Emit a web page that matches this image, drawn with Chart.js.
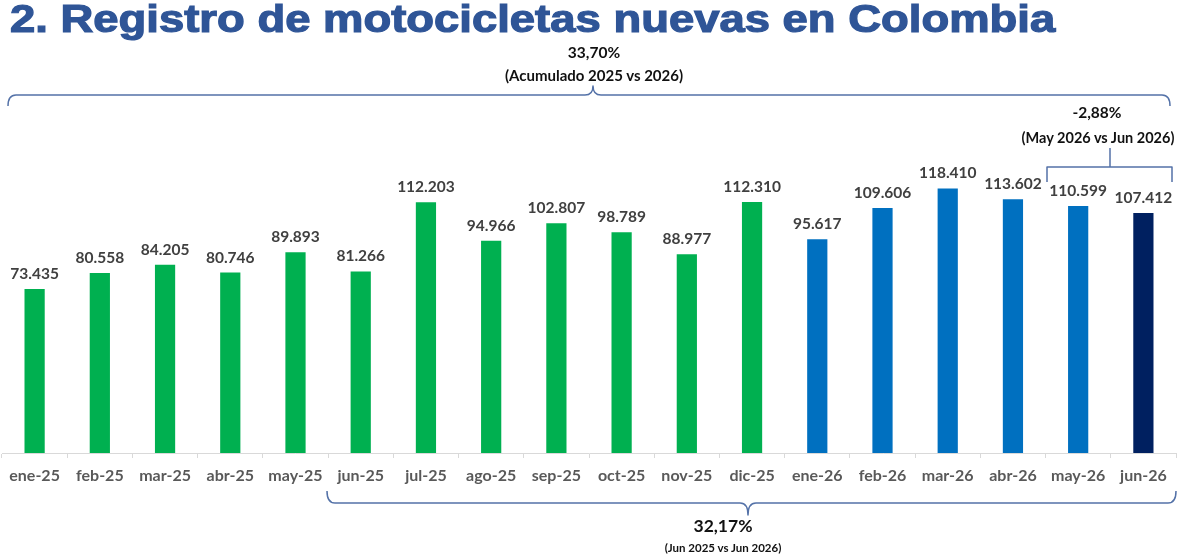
<!DOCTYPE html>
<html>
<head>
<meta charset="utf-8">
<script src="https://cdn.jsdelivr.net/npm/chart.js@4/dist/chart.umd.min.js"></script>
<style>
  html, body { margin:0; padding:0; background:#fff; }
  #wrap { position:relative; width:1181px; height:556px; overflow:hidden; }
  #c { position:absolute; left:0; top:0; }
  .t { position:absolute; white-space:nowrap; font-family:Lato, "Open Sans", sans-serif; font-weight:700; color:#111; transform:translate(-50%,-50%); line-height:1; }
  #title { position:absolute; left:10px; top:-3px; font-family:"Liberation Sans", Arial, sans-serif; font-weight:700; font-size:38.5px; color:#2f5597; white-space:nowrap; transform:scaleX(1.18); transform-origin:0 0; -webkit-text-stroke:1.2px #2f5597; }
</style>
</head>
<body>
<div id="wrap">
  <canvas id="c" width="1181" height="556"></canvas>
  <div id="title">2. Registro de motocicletas nuevas en Colombia</div>
  <div class="t" style="left:594px;top:53px;font-size:15.5px;">33,70%</div>
  <div class="t" style="left:594px;top:75px;font-size:15px;">(Acumulado 2025 vs 2026)</div>
  <div class="t" style="left:1097px;top:113px;font-size:15.5px;">-2,88%</div>
  <div class="t" style="left:1098px;top:138px;font-size:14.5px;">(May 2026 vs Jun 2026)</div>
  <div class="t" style="left:723px;top:526px;font-size:17.5px;">32,17%</div>
  <div class="t" style="left:723px;top:548px;font-size:11.5px;">(Jun 2025 vs Jun 2026)</div>
</div>
<script>
const categories = ["ene-25","feb-25","mar-25","abr-25","may-25","jun-25","jul-25","ago-25","sep-25","oct-25","nov-25","dic-25","ene-26","feb-26","mar-26","abr-26","may-26","jun-26"];
const registros = [73435,80558,84205,80746,89893,81266,112203,94966,102807,98789,88977,112310,95617,109606,118410,113602,110599,107412];
const barColors = ["#00b050","#00b050","#00b050","#00b050","#00b050","#00b050","#00b050","#00b050","#00b050","#00b050","#00b050","#00b050","#0070c0","#0070c0","#0070c0","#0070c0","#0070c0","#002060"];

function fmt(v){ return String(v).replace(/\B(?=(\d{3})+(?!\d))/g, "."); }

const braceColor = "#5472a8";

const annotations = {
  id: "annotations",
  afterDatasetsDraw(chart) {
    const ctx = chart.ctx;
    const meta = chart.getDatasetMeta(0);
    ctx.save();
    ctx.font = "700 15.5px Lato, 'Open Sans', sans-serif";
    ctx.fillStyle = "#404040";
    ctx.textAlign = "center";
    ctx.textBaseline = "middle";
    meta.data.forEach((bar, i) => {
      ctx.fillText(fmt(registros[i]), bar.x, bar.y - 15);
    });
    ctx.restore();

    ctx.save();
    ctx.strokeStyle = braceColor;
    ctx.lineWidth = 1.5;
    ctx.lineJoin = "round";
    const r = 8;
    // top brace (Acumulado)
    ctx.beginPath();
    ctx.moveTo(8, 106);
    ctx.quadraticCurveTo(8, 95, 8 + r, 95);
    ctx.lineTo(585, 95);
    ctx.quadraticCurveTo(593, 95, 593, 86);
    ctx.quadraticCurveTo(593, 95, 601, 95);
    ctx.lineTo(1170 - r, 95);
    ctx.quadraticCurveTo(1170, 95, 1170, 106);
    ctx.stroke();

    // bottom brace (Jun 2025 vs Jun 2026)
    ctx.beginPath();
    ctx.moveTo(327, 491);
    ctx.quadraticCurveTo(327, 503, 327 + r, 503);
    ctx.lineTo(740, 503);
    ctx.quadraticCurveTo(748, 503, 748, 515);
    ctx.quadraticCurveTo(748, 503, 756, 503);
    ctx.lineTo(1176 - r, 503);
    ctx.quadraticCurveTo(1176, 503, 1176, 491);
    ctx.stroke();

    // small bracket (May vs Jun 2026)
    ctx.beginPath();
    ctx.moveTo(1047, 182);
    ctx.lineTo(1047, 167);
    ctx.lineTo(1172, 167);
    ctx.lineTo(1172, 182);
    ctx.moveTo(1110, 167);
    ctx.lineTo(1110, 148);
    ctx.stroke();
    ctx.restore();
  }
};

new Chart(document.getElementById("c"), {
  type: "bar",
  data: {
    labels: categories,
    datasets: [{
      data: registros,
      backgroundColor: barColors,
      borderWidth: 0,
      categoryPercentage: 1.0,
      barPercentage: 0.31
    }]
  },
  options: {
    responsive: false,
    animation: false,
    devicePixelRatio: 1,
    layout: { padding: { left: 2, right: 5, top: 100, bottom: 0 } },
    plugins: { legend: { display: false }, tooltip: { enabled: false } },
    scales: {
      x: {
        offset: true,
        grid: { offset: true, drawOnChartArea: false, drawTicks: true, tickLength: 5, color: "#d9d9d9" },
        border: { display: true, color: "#d9d9d9", width: 1 },
        ticks: { color: "#595959", font: { family: "Lato, 'Open Sans', sans-serif", weight: "700", size: 16 }, padding: 8, maxRotation: 0, autoSkip: false },
        afterFit: (s) => { s.height = 103; }
      },
      y: {
        display: false,
        min: 0,
        max: 158000
      }
    }
  },
  plugins: [annotations]
});
</script>
</body>
</html>
